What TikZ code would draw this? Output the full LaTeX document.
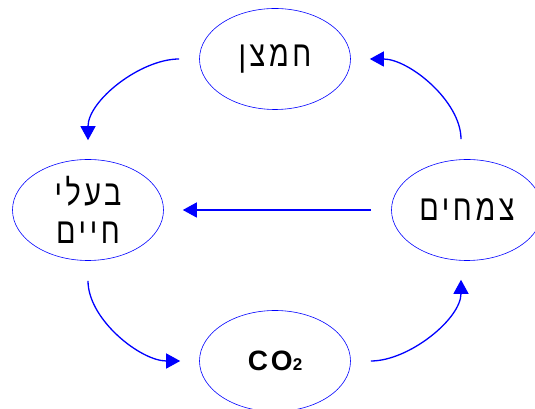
\documentclass[tikz,border=0pt]{standalone}
\usepackage{fontspec}
\setmainfont{Liberation Sans}
\newfontfamily\hebfont[Script=Hebrew,LetterSpace=10,FakeStretch=0.8]{Liberation Sans}
\TeXXeTstate=1
\usetikzlibrary{arrows.meta, shapes.geometric}
\tikzset{
    x=1pt, y=1pt, % work in points
    >={Triangle[length=14pt, width=15pt]}, % big filled heads
    cycle/.style={ellipse, draw=blue, line width=0.6pt, minimum width=151pt, minimum height=101pt,
        inner sep=0pt, align=center, font=\hebfont\fontsize{36}{38}\selectfont}, % every ellipse
    flow/.style={->, draw=blue, line width=1.3pt, shorten <=20pt, shorten >=19pt}, % the arrows
}

\begin{document}
\begin{tikzpicture}
    \useasboundingbox (0,0) rectangle (535,409);

    \node[cycle] (o2) at (275,350) {\beginR חמצן\endR};
    \node[cycle] (animals) at (88,199) {\beginR בעלי\endR\\\beginR חיים\endR};
    \node[cycle] (plants) at (467,199) {\beginR צמחים\endR};
    \node[cycle, font=\bfseries\fontsize{28}{30}\selectfont] (co2) at (275,48) {C\kern3pt O{\fontsize{17}{17}\selectfont 2}};

    \path
        (o2.west) edge[flow, out=180, in=90] (animals.north)
        (plants.west) edge[flow] (animals.east)
        ([xshift=-6pt]plants.north) edge[flow, out=90, in=0] (o2.east)
        (animals.south) edge[flow, out=-90, in=180] (co2.west)
        (co2.east) edge[flow, out=0, in=-90] ([xshift=-6pt]plants.south);
\end{tikzpicture}
\end{document}
